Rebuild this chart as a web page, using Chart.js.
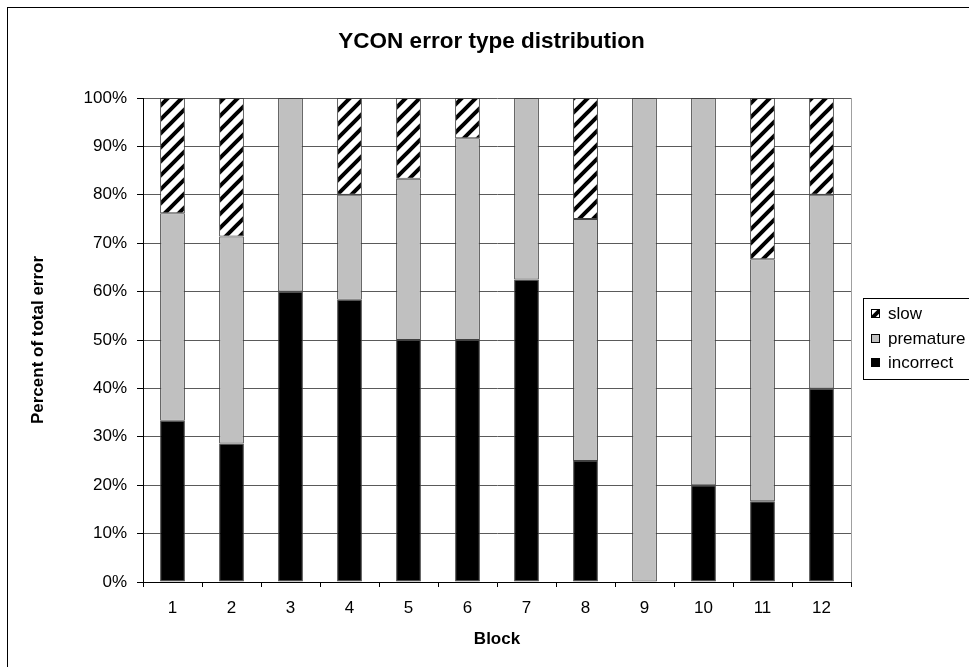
<!DOCTYPE html>
<html>
<head>
<meta charset="utf-8">
<title>YCON error type distribution</title>
<script src="https://cdn.jsdelivr.net/npm/chart.js@4.4.0/dist/chart.umd.min.js"></script>
<style>
  html, body { margin: 0; padding: 0; background: #fff; overflow: hidden; }
  #wrap { position: relative; width: 969px; height: 667px; }
</style>
</head>
<body>
<div id="wrap"><canvas id="errorChart"></canvas></div>
<script>
const blocks = ['1', '2', '3', '4', '5', '6', '7', '8', '9', '10', '11', '12'];

// share of total error per block, in percent
const incorrect = [33.3, 28.6, 60, 58.3, 50, 50, 62.5, 25, 0, 20, 16.7, 40];
const premature = [42.9, 42.8, 40, 21.7, 33.3, 41.7, 37.5, 50, 100, 80, 50, 40];
const slow = [23.8, 28.6, 0, 20, 16.7, 8.3, 0, 25, 0, 0, 33.3, 20];

const yTicks = [0, 10, 20, 30, 40, 50, 60, 70, 80, 90, 100];

Chart.defaults.font.family = 'Arial, "Liberation Sans", sans-serif';
Chart.defaults.font.size = 17;
Chart.defaults.color = '#000';

// black "/" stripes on white for the slow series
function makeHatch() {
  const size = 14;
  const c = document.createElement('canvas');
  c.width = size;
  c.height = size;
  const g = c.getContext('2d');
  g.fillStyle = '#fff';
  g.fillRect(0, 0, size, size);
  g.strokeStyle = '#000';
  g.lineWidth = 4;
  g.beginPath();
  g.moveTo(-size / 2, size / 2); g.lineTo(size / 2, -size / 2);
  g.moveTo(0, size); g.lineTo(size, 0);
  g.moveTo(size / 2, size * 1.5); g.lineTo(size * 1.5, size / 2);
  g.stroke();
  return g.createPattern(c, 'repeat');
}

const hatch = makeHatch();

// outer frame, plot area right edge and the boxed legend
const chartFrame = {
  id: 'chartFrame',
  beforeDraw(chart) {
    const { ctx } = chart;
    ctx.save();
    ctx.fillStyle = '#fff';
    ctx.fillRect(0, 0, chart.width, chart.height);
    ctx.restore();
  },
  afterDraw(chart) {
    const { ctx, chartArea } = chart;
    ctx.save();
    ctx.lineWidth = 1;
    ctx.strokeStyle = '#000';
    ctx.strokeRect(7.5, 7.5, chart.width + 10, chart.height + 10);

    ctx.strokeStyle = '#a0a0a0';
    ctx.beginPath();
    ctx.moveTo(Math.round(chartArea.right) + 0.5, chartArea.top);
    ctx.lineTo(Math.round(chartArea.right) + 0.5, chartArea.bottom);
    ctx.stroke();

    const boxX = 863, boxY = 298, rowGap = 24.5;
    const sets = chart.data.datasets.slice().reverse();
    ctx.strokeStyle = '#000';
    ctx.strokeRect(boxX + 0.5, boxY + 0.5, 200, 81);
    ctx.font = '17px Arial, "Liberation Sans", sans-serif';
    ctx.textBaseline = 'middle';
    ctx.textAlign = 'left';
    sets.forEach((ds, i) => {
      const cy = Math.round(boxY + 15 + i * rowGap);
      ctx.fillStyle = ds.backgroundColor;
      ctx.fillRect(871, cy - 4, 9, 9);
      ctx.strokeStyle = '#000';
      ctx.strokeRect(871.5, cy - 3.5, 8, 8);
      ctx.fillStyle = '#000';
      ctx.fillText(ds.label, 888, cy + 1);
    });
    ctx.restore();
  }
};

const segment = {
  borderColor: '#404040',
  borderWidth: 1,
  borderSkipped: false,
  barPercentage: 0.42,
  categoryPercentage: 1
};

new Chart(document.getElementById('errorChart'), {
  type: 'bar',
  data: {
    labels: blocks,
    datasets: [
      { label: 'incorrect', data: incorrect, backgroundColor: '#000000', ...segment },
      { label: 'premature', data: premature, backgroundColor: '#c0c0c0', ...segment },
      { label: 'slow', data: slow, backgroundColor: hatch, ...segment }
    ]
  },
  options: {
    responsive: true,
    maintainAspectRatio: false,
    animation: false,
    layout: { padding: { left: 14, right: 0, top: 0, bottom: 0 } },
    plugins: {
      legend: { display: false },
      tooltip: { enabled: false },
      title: {
        display: true,
        text: 'YCON error type distribution',
        color: '#000',
        font: { size: 22.5, weight: 'bold' },
        padding: { top: 28, bottom: 43 }
      }
    },
    scales: {
      x: {
        stacked: true,
        afterFit: (scale) => { scale.height = 85; },
        grid: {
          offset: true,
          drawOnChartArea: false,
          drawTicks: true,
          tickLength: 5,
          color: '#000'
        },
        border: { color: '#000' },
        ticks: { padding: 11, color: '#000' },
        title: {
          display: true,
          text: 'Block',
          font: { weight: 'bold' },
          padding: { top: 0, bottom: 17 }
        }
      },
      y: {
        stacked: true,
        min: 0,
        max: 100,
        afterFit: (scale) => { scale.width = 129; },
        afterBuildTicks: (scale) => { scale.ticks = yTicks.map((v) => ({ value: v })); },
        grid: {
          color: '#5a5a5a',
          tickColor: '#000',
          tickLength: 6
        },
        border: { color: '#000' },
        ticks: {
          padding: 10,
          color: '#000',
          callback: (value) => value + '%'
        },
        title: {
          display: true,
          text: 'Percent of total error',
          font: { weight: 'bold' },
          padding: { top: 14, bottom: 0 }
        }
      },
      // empty right-hand strip that leaves room for the legend box
      side: {
        position: 'right',
        display: true,
        afterFit: (scale) => { scale.width = 118; },
        grid: { display: false, drawTicks: false },
        border: { display: false },
        ticks: { display: false }
      }
    }
  },
  plugins: [chartFrame]
});
</script>
</body>
</html>
